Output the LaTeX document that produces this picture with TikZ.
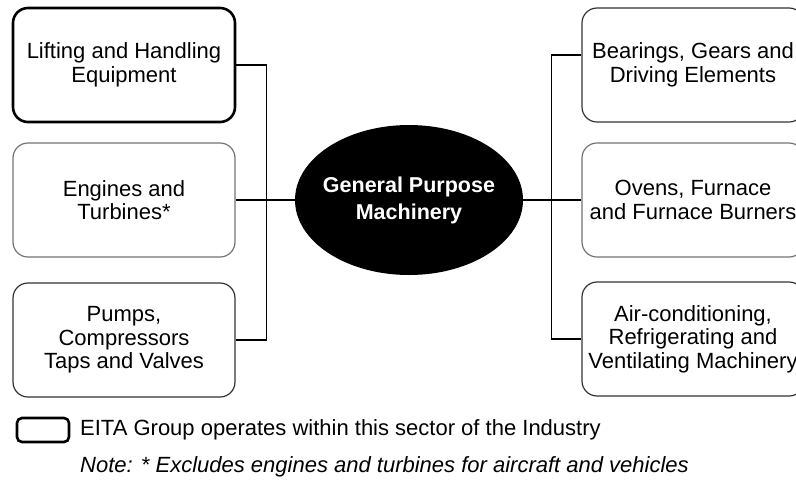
\documentclass[tikz,border=0pt]{standalone}
\usepackage{fontspec}
\setmainfont{Liberation Sans}
\usetikzlibrary{shapes.geometric}
\begin{document}
\begin{tikzpicture}[x=1pt,y=-1pt,font=\fontsize{22}{23.5}\selectfont]
% Two box styles: sector of the group and other sectors
\tikzstyle{group box}=[rounded corners=15pt,draw,line width=2.6pt,minimum width=222pt,minimum height=114pt,align=center];
\tikzstyle{sector box}=[rounded corners=15pt,draw=black!80,line width=1.2pt,minimum width=222pt,minimum height=114pt,align=center];
\tikzstyle{link}=[draw,line width=1.4pt];
\clip (0,0) rectangle (796,483);
% Left column
\node(lift)[group box] at (124,65){Lifting and Handling\\Equipment};
\node(engine)[sector box,draw=black!55] at (124,200){Engines and\\Turbines*};
\node(pump)[sector box] at (124,340){Pumps,\\Compressors\\Taps and Valves};
% Right column
\node(bear)[sector box] at (693,65){Bearings, Gears and\\Driving Elements};
\node(oven)[sector box,draw=black!55] at (693,200){Ovens, Furnace\\and Furnace Burners};
\node(air)[sector box] at (693,339){Air-conditioning,\\Refrigerating and\\Ventilating Machinery};
% The centre
\node(core)[ellipse,fill=black,text=white,inner xsep=-10pt,minimum width=228pt,minimum height=150pt,align=center,font=\fontsize{21.5}{27}\selectfont\bfseries] at (409,200){General Purpose\\Machinery};
% Connectors
\draw[link](lift.east)-- ++(30,0)|-(pump.east);
\draw[link](engine.east)--(core.west);
\draw[link](core.east)--(oven.west);
\draw[link]([yshift=10pt]bear.west)-- ++(-30,0)|-(air.west);
% Key and note
\node(key)[group box,minimum width=52pt,minimum height=24pt,rounded corners=5pt] at (43,430){};
\node(keytext)[anchor=west,inner sep=0] at (80,430){EITA Group operates within this sector of the Industry};
\node(note)[anchor=west,inner sep=0,font=\fontsize{22}{23.5}\selectfont\itshape] at (80,467){Note: * Excludes engines and turbines for aircraft and vehicles};
\end{tikzpicture}
\end{document}
